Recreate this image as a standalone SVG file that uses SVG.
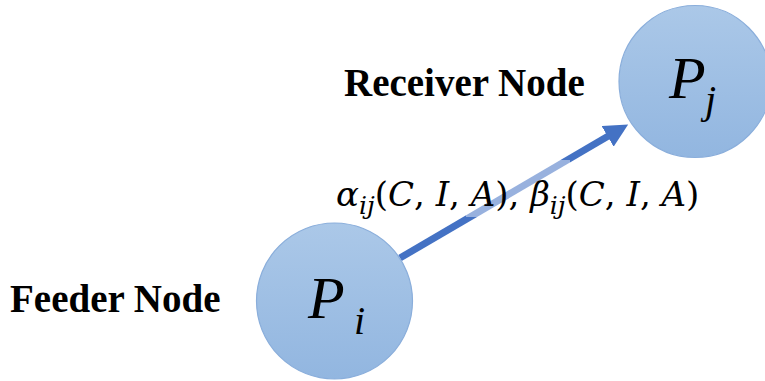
<svg xmlns="http://www.w3.org/2000/svg" width="765" height="381" viewBox="0 0 765 381">
<defs>
<linearGradient id="g" x1="0" y1="0" x2="0" y2="1">
<stop offset="0" stop-color="#abc8e8"/>
<stop offset="1" stop-color="#92b6e0"/>
</linearGradient>
<marker id="ah" viewBox="0 0 10 10" refX="7" refY="5" markerWidth="3.4" markerHeight="3.4" orient="auto" markerUnits="strokeWidth">
<path d="M0,0 L10,5 L0,10 z" fill="#4472c4"/>
</marker>
<style>
.node{fill:url(#g);stroke:#8aaedb;stroke-width:1.2}
.lbl{font-family:"Liberation Serif",serif;font-weight:bold;font-size:39px;fill:#000}
.math{font-family:"DejaVu Serif","Liberation Serif",serif;font-style:italic;fill:#000}
.up{font-style:normal}
.big{font-family:"Liberation Serif",serif;font-style:italic;fill:#000}
</style>
</defs>
<g id="connectors">
<line x1="400" y1="258" x2="622" y2="128" stroke="#4472c4" stroke-width="7" marker-end="url(#ah)"/>
</g>
<g id="edge-label">
<rect x="466" y="160" width="104" height="57" fill="#fff" fill-opacity="0.45"/>
<text class="math" x="336" y="206" font-size="34">α<tspan font-size="25" dy="8">ij</tspan><tspan class="up" dy="-8">(</tspan>C<tspan class="up">, </tspan>I<tspan class="up">, </tspan>A<tspan class="up">), </tspan>β<tspan font-size="25" dy="8">ij</tspan><tspan class="up" dy="-8">(</tspan>C<tspan class="up">, </tspan>I<tspan class="up">, </tspan>A<tspan class="up">)</tspan></text>
</g>
<g id="node-i">
<circle class="node" cx="334.5" cy="301" r="78"/>
<text class="big" x="308" y="318" font-size="60">P</text>
<text class="big" x="354" y="334" font-size="40">i</text>
</g>
<g id="node-j">
<circle class="node" cx="695" cy="81.5" r="76"/>
<text class="big" x="669" y="98" font-size="60">P</text>
<text class="big" x="705" y="113" font-size="40">j</text>
</g>
<g id="feeder-label">
<text class="lbl" x="10" y="312">Feeder Node</text>
</g>
<g id="receiver-label">
<text class="lbl" x="344" y="96">Receiver Node</text>
</g>
</svg>
